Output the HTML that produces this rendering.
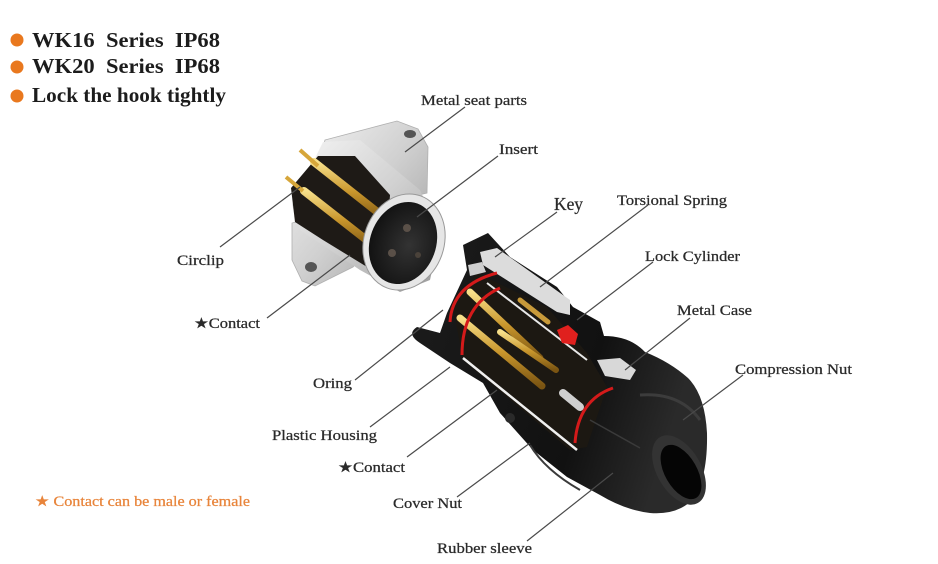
<!DOCTYPE html>
<html><head><meta charset="utf-8"><style>
html,body{margin:0;padding:0;background:#fff;}
svg{display:block;}
.h{font-family:"Liberation Serif",serif;font-weight:bold;font-size:21px;fill:#1c1c1c;}
.l{font-family:"Liberation Serif",serif;font-size:14.5px;fill:#2a2a2a;stroke:#2a2a2a;stroke-width:0.25;}
.ln{stroke:#4a4a4a;stroke-width:1.2;fill:none;}
</style></head><body>
<svg width="938" height="564" viewBox="0 0 938 564" xmlns="http://www.w3.org/2000/svg">
<defs>
<linearGradient id="silv" x1="0" y1="0" x2="1" y2="1">
<stop offset="0" stop-color="#f6f6f6"/><stop offset="0.5" stop-color="#d0d0d0"/><stop offset="1" stop-color="#9a9a9a"/>
</linearGradient>
<linearGradient id="gold" x1="0" y1="0" x2="0" y2="1">
<stop offset="0" stop-color="#f7e08a"/><stop offset="0.5" stop-color="#c9962c"/><stop offset="1" stop-color="#7a5412"/>
</linearGradient>
<radialGradient id="blk" cx="0.6" cy="0.5" r="0.7">
<stop offset="0" stop-color="#333"/><stop offset="1" stop-color="#0c0c0c"/>
</radialGradient>
<linearGradient id="body" x1="0" y1="0" x2="1" y2="0.3">
<stop offset="0" stop-color="#1c1c1c"/><stop offset="0.7" stop-color="#111"/><stop offset="1" stop-color="#2a2a2a"/>
</linearGradient>
</defs>

<!-- header -->
<circle cx="17" cy="40" r="6.5" fill="#e9781e"/>
<circle cx="17" cy="67" r="6.5" fill="#e9781e"/>
<circle cx="17" cy="96" r="6.5" fill="#e9781e"/>
<text class="h" x="32" y="47" textLength="188" lengthAdjust="spacingAndGlyphs" xml:space="preserve">WK16  Series  IP68</text>
<text class="h" x="32" y="73" textLength="188" lengthAdjust="spacingAndGlyphs" xml:space="preserve">WK20  Series  IP68</text>
<text class="h" x="32" y="102" textLength="194" lengthAdjust="spacingAndGlyphs">Lock the hook tightly</text>

<!-- ===== socket (upper) ===== -->
<polygon points="325,140 397,121 418,129 428,147 427,193 410,197 353,267 315,286 302,281 292,260 292,223 303,220" fill="url(#silv)" stroke="#b0b0b0" stroke-width="0.8"/>
<ellipse cx="410" cy="134" rx="6" ry="4" fill="#555"/>
<ellipse cx="311" cy="267" rx="6" ry="5" fill="#555"/>
<polygon points="323,142 360,140 420,190 440,235 430,280 400,292 360,270 300,230 292,205" fill="url(#silv)"/>
<polygon points="291,188 318,156 355,156 390,195 386,252 372,270 323,240 295,222" fill="#1e1a16"/>
<line x1="314" y1="162" x2="390" y2="222" stroke="url(#gold)" stroke-width="8" stroke-linecap="round"/>
<line x1="304" y1="191" x2="378" y2="249" stroke="url(#gold)" stroke-width="8" stroke-linecap="round"/>
<line x1="300" y1="150" x2="318" y2="166" stroke="#d6a63a" stroke-width="4"/>
<line x1="286" y1="177" x2="303" y2="191" stroke="#d6a63a" stroke-width="4"/>
<ellipse cx="404" cy="242" rx="40" ry="49" transform="rotate(20 404 242)" fill="#e6e6e6" stroke="#999" stroke-width="1"/>
<ellipse cx="403" cy="243" rx="33" ry="42" transform="rotate(20 403 243)" fill="url(#blk)"/>
<circle cx="407" cy="228" r="4" fill="#5a5048"/>
<circle cx="392" cy="253" r="4" fill="#5a5048"/>
<circle cx="418" cy="255" r="3" fill="#4a423a"/>

<!-- ===== plug (lower) ===== -->
<path d="M463,245 L488,233 L510,257 L557,287 L573,307 L600,322 L604,336 Q630,336 645,352 Q670,362 688,378 Q705,395 707,433 Q708,482 690,502 Q675,515 650,513 Q625,510 600,495 L567,477 L533,450 L500,413 L483,383 L450,363 L420,343 Q406,334 417,327 L440,333 L447,313 L467,270 Z" fill="url(#body)"/>
<!-- cover nut ribs -->
<path d="M530,445 Q545,470 580,490" stroke="#3a3a3a" stroke-width="2" fill="none"/>
<circle cx="510" cy="418" r="5" fill="#2a2a2a"/>
<!-- cutaway interior -->
<polygon points="453,307 477,273 547,307 587,353 607,387 587,447 570,450 463,360" fill="#1c1812"/>
<polygon points="480,252 497,248 570,300 570,315 557,312 483,265" fill="#dcdcdc"/>
<polygon points="468,265 482,262 486,272 470,276" fill="#cfcfcf"/>
<line x1="470" y1="292" x2="540" y2="358" stroke="url(#gold)" stroke-width="7" stroke-linecap="round"/>
<line x1="460" y1="318" x2="542" y2="386" stroke="url(#gold)" stroke-width="7" stroke-linecap="round"/>
<line x1="500" y1="332" x2="556" y2="370" stroke="url(#gold)" stroke-width="6" stroke-linecap="round"/>
<line x1="520" y1="300" x2="548" y2="322" stroke="#c89a3a" stroke-width="5" stroke-linecap="round"/>
<line x1="563" y1="393" x2="580" y2="407" stroke="#cfcfcf" stroke-width="8" stroke-linecap="round"/>
<line x1="463" y1="358" x2="577" y2="450" stroke="#f0f0f0" stroke-width="2.5"/>
<line x1="487" y1="283" x2="587" y2="360" stroke="#e8e8e8" stroke-width="2"/>
<polygon points="597,360 620,358 636,370 630,380 605,376" fill="#d8d8d8"/>
<!-- red rings -->
<path d="M450,322 Q452,285 497,273" stroke="#d41a1a" stroke-width="3" fill="none"/>
<path d="M462,355 Q462,305 500,288" stroke="#d41a1a" stroke-width="3" fill="none"/>
<path d="M575,443 Q578,400 613,388" stroke="#d41a1a" stroke-width="3" fill="none"/>
<polygon points="557,330 568,325 578,334 575,345 562,343" fill="#e0201e"/>
<!-- compression nut end -->
<ellipse cx="679" cy="470" rx="22" ry="38" transform="rotate(-30 679 470)" fill="#333"/>
<ellipse cx="681" cy="472" rx="16" ry="30" transform="rotate(-30 681 472)" fill="#050505"/>
<path d="M640,395 Q680,392 700,420" stroke="#3c3c3c" stroke-width="3" fill="none"/>
<line x1="590" y1="420" x2="640" y2="448" stroke="#3a3a3a" stroke-width="1.5"/>

<!-- leader lines -->
<g class="ln">
<line x1="465" y1="107" x2="405" y2="152"/>
<line x1="498" y1="156" x2="417" y2="217"/>
<line x1="220" y1="247" x2="300" y2="187"/>
<line x1="267" y1="318" x2="350" y2="255"/>
<line x1="557" y1="212" x2="495" y2="257"/>
<line x1="648" y1="205" x2="540" y2="287"/>
<line x1="653" y1="262" x2="577" y2="320"/>
<line x1="690" y1="318" x2="625" y2="370"/>
<line x1="743" y1="375" x2="683" y2="420"/>
<line x1="355" y1="380" x2="443" y2="310"/>
<line x1="370" y1="427" x2="450" y2="367"/>
<line x1="407" y1="457" x2="497" y2="390"/>
<line x1="457" y1="497" x2="530" y2="443"/>
<line x1="527" y1="541" x2="613" y2="473"/>
</g>

<!-- labels -->
<text class="l" x="421" y="105" textLength="106" lengthAdjust="spacingAndGlyphs">Metal seat parts</text>
<text class="l" x="499" y="154" textLength="39" lengthAdjust="spacingAndGlyphs">Insert</text>
<text class="l" x="177" y="265" textLength="47" lengthAdjust="spacingAndGlyphs">Circlip</text>
<text class="l" x="194" y="328" textLength="66" lengthAdjust="spacingAndGlyphs">★Contact</text>
<text class="l" x="554" y="210" style="font-size:18px" textLength="29" lengthAdjust="spacingAndGlyphs">Key</text>
<text class="l" x="617" y="205" textLength="110" lengthAdjust="spacingAndGlyphs">Torsional Spring</text>
<text class="l" x="645" y="261" textLength="95" lengthAdjust="spacingAndGlyphs">Lock Cylinder</text>
<text class="l" x="677" y="315" textLength="75" lengthAdjust="spacingAndGlyphs">Metal Case</text>
<text class="l" x="735" y="374" textLength="117" lengthAdjust="spacingAndGlyphs">Compression Nut</text>
<text class="l" x="313" y="388" textLength="39" lengthAdjust="spacingAndGlyphs">Oring</text>
<text class="l" x="272" y="440" textLength="105" lengthAdjust="spacingAndGlyphs">Plastic Housing</text>
<text class="l" x="338" y="472" textLength="67" lengthAdjust="spacingAndGlyphs">★Contact</text>
<text class="l" x="393" y="508" textLength="69" lengthAdjust="spacingAndGlyphs">Cover Nut</text>
<text class="l" x="437" y="553" textLength="95" lengthAdjust="spacingAndGlyphs">Rubber sleeve</text>
<text class="l" x="35" y="506" style="fill:#e8843a;stroke:#e8843a" textLength="215" lengthAdjust="spacingAndGlyphs">★ Contact can be male or female</text>
</svg>
</body></html>
